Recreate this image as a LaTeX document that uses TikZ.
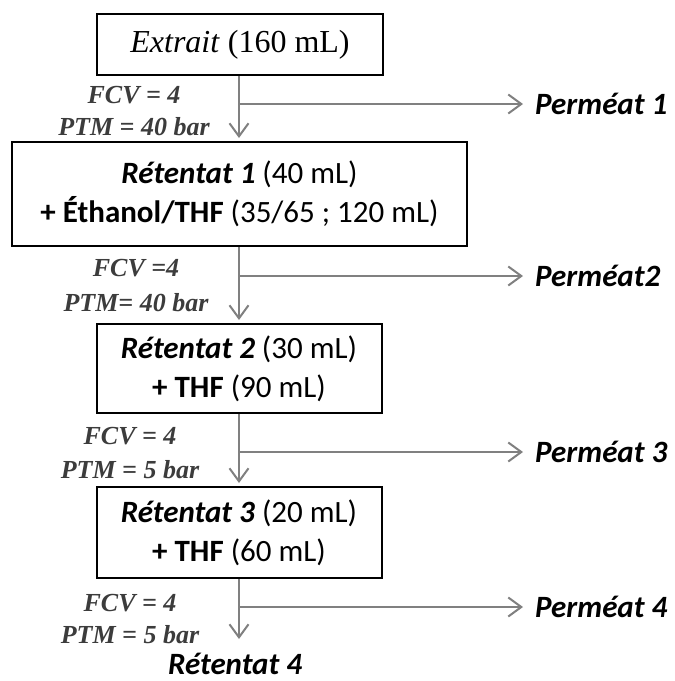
\documentclass[tikz,border=0pt]{standalone}
\usepackage{fontspec}
\setmainfont{Liberation Serif}
\newfontfamily\calfont{Carlito}
\usetikzlibrary{arrows.meta}
\definecolor{arrgray}{RGB}{128,128,128}
\definecolor{lblgray}{RGB}{60,60,60}
\begin{document}
\begin{tikzpicture}[x=1pt,y=-1pt,
  stagebox/.style={draw=black, line width=2pt, inner sep=0pt, align=center, font=\calfont\fontsize{31}{39}\selectfont},
  lbl/.style={text=lblgray, font=\bfseries\itshape\fontsize{26}{26}\selectfont, inner sep=0pt, anchor=center},
  perm/.style={font=\calfont\bfseries\itshape\fontsize{31}{31}\selectfont, inner sep=0pt, anchor=west},
  arr/.style={draw=arrgray, line width=2pt, -{Straight Barb[length=13pt,width=19pt,line width=2pt]}}
]
\useasboundingbox (0,0) rectangle (675,681);
\fill[white] (0,0) rectangle (675,681);

% boxes
\node[stagebox, minimum width=286pt, minimum height=61pt, font=\fontsize{32}{32}\selectfont] (b1) at (240,44.5) {\textit{Extrait} (160 mL)};
\node[stagebox, minimum width=455pt, minimum height=104pt] (b2) at (239.5,194) {\textbf{\textit{Rétentat 1}} (40 mL)\\\textbf{+ Éthanol/THF} (35/65 ; 120 mL)};
\node[stagebox, minimum width=285pt, minimum height=89pt] (b3) at (239,368.5) {\textbf{\textit{Rétentat 2}} (30 mL)\\\textbf{+ THF} (90 mL)};
\node[stagebox, minimum width=285pt, minimum height=91pt] (b4) at (239,532.5) {\textbf{\textit{Rétentat 3}} (20 mL)\\\textbf{+ THF} (60 mL)};
\node[perm, anchor=center] (r4) at (235,664) {Rétentat 4};

% permeate labels
\node[perm] (p1) at (535,104) {Perméat 1};
\node[perm] (p2) at (535,276) {Perméat2};
\node[perm] (p3) at (535,452) {Perméat 3};
\node[perm] (p4) at (535,607) {Perméat 4};

% condition labels
\node[lbl] (f1) at (134,95) {FCV = 4};
\node[lbl] (m1) at (134,127) {PTM = 40 bar};
\node[lbl] (f2) at (136,268) {FCV =4};
\node[lbl] (m2) at (136,303) {PTM= 40 bar};
\node[lbl] (f3) at (130,436) {FCV = 4};
\node[lbl] (m3) at (130,470) {PTM = 5 bar};
\node[lbl] (f4) at (130,603) {FCV = 4};
\node[lbl] (m4) at (130,635) {PTM = 5 bar};

% junctions
\coordinate (j1) at (239,104);
\coordinate (j2) at (239,276);
\coordinate (j3) at (239,452);
\coordinate (j4) at (239,607);
\coordinate (t4) at (239,639);

% vertical flow
\draw[arr, shorten >=3pt] (b1.south -| j1) -- (b2.north -| j1);
\draw[arr, shorten >=3pt] (b2.south -| j2) -- (b3.north -| j2);
\draw[arr, shorten >=3pt] (b3.south -| j3) -- (b4.north -| j3);
\draw[arr] (b4.south -| j4) -- (t4);

% permeate branches
\draw[arr, shorten >=12pt] (j1) -- (p1.west);
\draw[arr, shorten >=12pt] (j2) -- (p2.west);
\draw[arr, shorten >=12pt] (j3) -- (p3.west);
\draw[arr, shorten >=12pt] (j4) -- (p4.west);
\end{tikzpicture}
\end{document}
